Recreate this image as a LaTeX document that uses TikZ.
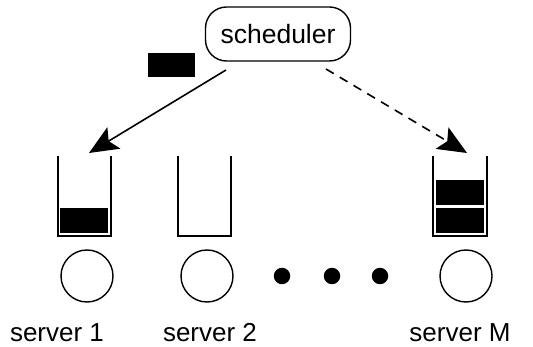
\documentclass[tikz,border=0pt]{standalone}
\usepackage{fontspec}
\setmainfont{Liberation Sans}
\usetikzlibrary{arrows.meta}
\begin{document}
\begin{tikzpicture}[x=1pt,y=-1pt,
  lbl/.style={font=\fontsize{26}{29}\selectfont, inner sep=0pt},
  queue/.style={draw=black, line width=1.6pt},
  srv/.style={circle, draw=black, line width=1.4pt, minimum size=52pt, inner sep=0pt},
  dot/.style={circle, fill=black, minimum size=16.5pt, inner sep=0pt},
  link/.style={line width=1.6pt, -{Stealth[length=29pt,width=25pt,inset=6pt]}}
]
\useasboundingbox (0,0) rectangle (533,347);

% scheduler
\node[draw=black, line width=1.4pt, rounded corners=21pt, minimum width=145pt, minimum height=54pt,
      font=\fontsize{26.5}{30}\selectfont, inner sep=0pt] (sched) at (278,34) {scheduler};

% job in transit
\fill[black] (148,53) rectangle (195,77);

% queues
\draw[queue] (58,156) -- (58,236) -- (111,236) -- (111,156);
\draw[queue] (178,156) -- (178,236) -- (231,236) -- (231,156);
\draw[queue] (433,156) -- (433,236) -- (487,236) -- (487,156);
\fill[black] (60,208) rectangle (108,233);
\fill[black] (436,180) rectangle (484,205);
\fill[black] (436,208) rectangle (484,233);

\coordinate (q1) at (89,153);
\coordinate (qM) at (467,153);

% dispatch arrows
\draw[link] (226,70) -- (q1);
\draw[link, dash pattern=on 9pt off 7pt] (326,69) -- (qM);

% servers
\node[srv] (s1) at (87,276) {};
\node[srv] (s2) at (207,276) {};
\node[srv] (sM) at (466,276) {};
\node[dot] (d1) at (282,276) {};
\node[dot] (d2) at (332,276) {};
\node[dot] (d3) at (380,276) {};

% labels
\node[lbl, anchor=base] (l1) at (57,342) {server 1};
\node[lbl, anchor=base] (l2) at (210,342) {server 2};
\node[lbl, anchor=base] (lM) at (460,342) {server M};
\end{tikzpicture}
\end{document}
